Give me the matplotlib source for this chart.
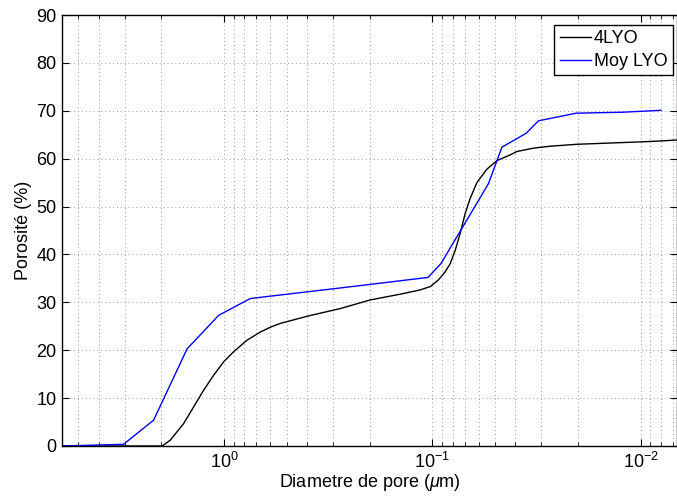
import matplotlib
matplotlib.use("Agg")
import matplotlib.pyplot as plt
from matplotlib.ticker import LogLocator, NullFormatter

plt.rcParams['font.family'] = ['Liberation Sans', 'DejaVu Sans']
plt.rcParams['mathtext.fontset'] = 'custom'
plt.rcParams['mathtext.rm'] = 'Liberation Sans'
plt.rcParams['mathtext.it'] = 'Liberation Sans:italic'

# 4LYO (smooth curve), diameter in um vs porosity in %
d_4lyo = [6.0, 1.98, 1.81, 1.563, 1.399, 1.252, 1.122, 1.004, 0.899, 0.776,
          0.670, 0.600, 0.537, 0.399, 0.277, 0.199, 0.1427, 0.1144, 0.1023,
          0.0935, 0.0868, 0.0821, 0.0777, 0.0736, 0.0696, 0.0659, 0.0612,
          0.0548, 0.0490, 0.0423, 0.0393, 0.0327, 0.0272, 0.0203, 0.0101,
          0.0080, 0.0067]
p_4lyo = [0.0, 0.0, 1.25, 4.7, 8.2, 11.7, 14.8, 17.6, 19.7, 22.1,
          23.8, 24.8, 25.6, 27.1, 28.7, 30.5, 31.7, 32.6, 33.3,
          34.7, 36.4, 38.1, 40.9, 44.4, 48.6, 51.7, 55.0,
          57.8, 59.6, 60.8, 61.5, 62.2, 62.6, 63.0, 63.5,
          63.7, 63.9]

# Moy LYO (averaged, piecewise)
d_moy = [6.0, 3.04, 2.18, 1.505, 1.061, 0.748, 0.277, 0.105, 0.091, 0.0538,
         0.0464, 0.0355, 0.031, 0.0204, 0.0122, 0.0080]
p_moy = [0.0, 0.35, 5.4, 20.3, 27.3, 30.8, 33.0, 35.2, 38.1, 54.8,
         62.4, 65.3, 67.9, 69.5, 69.7, 70.1]

fig = plt.figure(figsize=(6.77, 4.97), dpi=100)
ax = fig.add_axes([62 / 677, 1 - 446 / 497, 1 - 62 / 677, (446 - 15) / 497])

ax.plot(d_4lyo, p_4lyo, color='black', lw=1.0, label='4LYO')
ax.plot(d_moy, p_moy, color='#0000ff', lw=1.0, label='Moy LYO')

ax.set_xscale('log')
ax.set_xlim(6.0, 0.0067)
ax.set_ylim(0, 90)
ax.set_yticks(range(0, 91, 10))
ax.xaxis.set_major_locator(LogLocator(base=10, numticks=10))
ax.xaxis.set_minor_locator(LogLocator(base=10, subs=range(2, 10), numticks=20))
ax.xaxis.set_minor_formatter(NullFormatter())

ax.grid(True, which='major', axis='both', linestyle=(0, (1, 3)), color='#999999', lw=0.7)
ax.grid(True, which='minor', axis='x', linestyle=(0, (1, 3)), color='#999999', lw=0.7)

ax.tick_params(which='both', direction='in', top=True, right=True, labelsize=13)
ax.tick_params(which='major', length=5, pad=4)
ax.tick_params(which='minor', length=3)
for s in ax.spines.values():
    s.set_linewidth(1.0)

ax.set_xlabel(r'Diametre de pore ($\mu$m)', fontsize=13, labelpad=0)
ax.set_ylabel('Porosité (%)', fontsize=13, labelpad=3)

leg = ax.legend(loc='upper right', bbox_to_anchor=(673 / 677, 1 - 25 / 497),
                bbox_transform=fig.transFigure, borderaxespad=0,
                fontsize=13, fancybox=False, framealpha=1, edgecolor='black',
                handlelength=1.75, handletextpad=0.15, borderpad=0.3,
                labelspacing=0.3)
leg.get_frame().set_linewidth(1.0)

fig.savefig('out.png', dpi=100)
